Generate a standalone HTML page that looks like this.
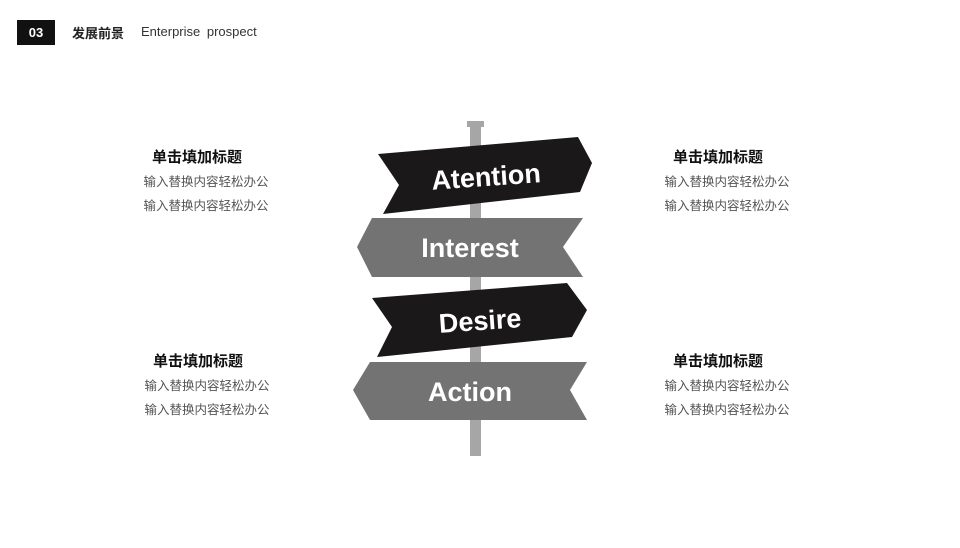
<!DOCTYPE html>
<html><head><meta charset="utf-8"><style>
body{margin:0;width:960px;height:548px;background:#fff;position:relative;overflow:hidden;font-family:"Liberation Sans","Noto Sans CJK SC",sans-serif}
.t{position:absolute;text-align:center;width:160px}
.t b{display:block;font-size:15px;color:#111;line-height:24px;position:relative;left:-9px}
.t span{display:block;font-size:12.5px;color:#555;line-height:24px}
</style></head><body>
<div style="position:absolute;left:17px;top:20px;width:38px;height:25px;background:#111;color:#fff;font-weight:bold;font-size:13px;text-align:center;line-height:25px">03</div>
<div style="position:absolute;left:72px;top:23px;font-size:13px;color:#222;font-weight:bold">发展前景</div>
<div style="position:absolute;left:141px;top:24px;font-size:13px;color:#333;word-spacing:3px">Enterprise prospect</div>

<div class="t" style="left:126px;top:146px"><b>单击填加标题</b><span>输入替换内容轻松办公</span><span>输入替换内容轻松办公</span></div>
<div class="t" style="left:647px;top:146px"><b>单击填加标题</b><span>输入替换内容轻松办公</span><span>输入替换内容轻松办公</span></div>
<div class="t" style="left:127px;top:350px"><b>单击填加标题</b><span>输入替换内容轻松办公</span><span>输入替换内容轻松办公</span></div>
<div class="t" style="left:647px;top:350px"><b>单击填加标题</b><span>输入替换内容轻松办公</span><span>输入替换内容轻松办公</span></div>

<svg width="960" height="548" style="position:absolute;left:0;top:0">
<rect x="467" y="121" width="17" height="6" fill="#a6a6a6"/>
<rect x="470" y="121" width="11" height="335" fill="#a6a6a6"/>
<polygon points="378,154 578,137 592,163 580,192 383,214 399,185" fill="#1a1818"/>
<polygon points="372,218 583,218 563,247 583,277 372,277 357,247" fill="#737373"/>
<polygon points="372,298 567,283 587,310 572,337 377,357 392,327" fill="#1a1818"/>
<polygon points="370,362 587,362 570,390 587,420 370,420 353,390" fill="#737373"/>
<g font-family="'Liberation Sans',sans-serif" font-weight="bold" fill="#fff" text-anchor="middle" font-size="27">
<text x="486" y="186" transform="rotate(-4 486 176)">Atention</text>
<text x="470" y="257">Interest</text>
<text x="480" y="330" transform="rotate(-4 480 320)">Desire</text>
<text x="470" y="401">Action</text>
</g>
</svg>
</body></html>
